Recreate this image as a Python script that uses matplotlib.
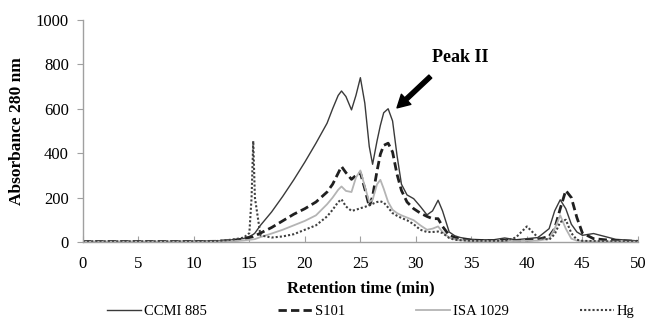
import matplotlib
matplotlib.use("Agg")
import matplotlib.pyplot as plt

plt.rcParams['font.family'] = ['Liberation Serif', 'DejaVu Serif']

# Retention time grid (min)
time = [0, 2, 4, 6, 8, 10, 12, 13, 14, 14.5, 15, 15.2, 15.35, 15.5, 16, 17, 18, 19, 20,
        21, 22, 22.5, 23, 23.3, 23.7, 24.2, 24.6, 25, 25.4, 25.8, 26.1, 26.5, 26.8,
        27.1, 27.5, 27.9, 28.3, 28.7, 29.2, 29.8, 30.4, 31, 31.5, 32, 32.4, 33, 33.5,
        34, 35, 36, 37, 38, 39, 40, 41, 42, 42.5, 43, 43.5, 44, 44.5, 45, 46, 47, 48, 50]

ccmi885 = [2, 2, 2, 2, 2, 3, 5, 8, 12, 16, 25, 30, 34, 40, 75, 135, 205, 280, 360,
           445, 535, 600, 660, 680, 655, 595, 660, 740, 625, 430, 350, 455, 525,
           582, 600, 545, 390, 260, 212, 195, 160, 122, 140, 188, 140, 45, 28,
           20, 12, 10, 10, 18, 10, 15, 20, 60, 140, 190, 150, 80, 45, 30, 38, 25, 12, 5]

s101 = [2, 2, 2, 2, 2, 2, 3, 5, 10, 14, 20, 22, 24, 27, 40, 65, 95, 125, 150,
        180, 225, 260, 310, 340, 312, 282, 300, 312, 240, 160, 205, 320, 395,
        435, 445, 405, 305, 232, 180, 150, 130, 115, 105, 105, 70, 30, 20,
        12, 8, 6, 5, 8, 5, 8, 12, 25, 60, 150, 232, 200, 110, 40, 15, 10, 6, 3]

isa1029 = [1, 1, 1, 1, 1, 1, 2, 3, 5, 7, 10, 11, 12, 13, 22, 38, 55, 75, 95,
           120, 170, 200, 235, 250, 230, 225, 290, 322, 250, 180, 190, 260, 280,
           240, 180, 145, 130, 120, 110, 98, 75, 55, 60, 70, 45, 20, 12,
           8, 5, 4, 4, 5, 4, 5, 6, 15, 60, 120, 60, 15, 6, 4, 3, 2, 2, 1]

hg = [3, 3, 3, 3, 3, 3, 4, 8, 15, 20, 40, 200, 455, 200, 30, 20, 25, 35, 55,
      75, 115, 145, 180, 192, 160, 140, 145, 152, 158, 165, 172, 180, 183,
      178, 155, 130, 118, 108, 98, 80, 55, 45, 45, 47, 40, 18, 10,
      8, 5, 5, 5, 5, 20, 70, 20, 10, 35, 90, 100, 40, 10, 5, 4, 3, 3, 2]

series_labels = ['CCMI 885', 'S101', 'ISA 1029', 'Hg']
x_ticks = [0, 5, 10, 15, 20, 25, 30, 35, 40, 45, 50]
y_ticks = [0, 200, 400, 600, 800, 1000]

fig = plt.figure(figsize=(6.47, 3.27), dpi=100)
ax = fig.add_axes([0.128, 0.26, 0.858, 0.679])

common = dict(solid_joinstyle='round', dash_joinstyle='round')
ax.plot(time, ccmi885, color='#3a3a3a', lw=1.0, ls='-', label=series_labels[0], **common)
ax.plot(time, s101, color='#202020', lw=2.0, ls=(0, (3, 1.5)), label=series_labels[1], **common)
ax.plot(time, isa1029, color='#b4b4b4', lw=1.3, ls='-', label=series_labels[2], **common)
ax.plot(time, hg, color='#404040', lw=1.5, ls=(0, (1, 1)), label=series_labels[3], **common)

ax.set_xlim(0, 50)
ax.set_ylim(0, 1000)
ax.set_xticks(x_ticks)
ax.set_yticks(y_ticks)
ax.tick_params(axis='x', direction='in', length=4, color='#a0a0a0', labelsize=12, pad=10)
ax.tick_params(axis='y', direction='out', length=4, color='#a0a0a0', labelsize=12, pad=6)
for s in ['top', 'right']:
    ax.spines[s].set_visible(False)
for s in ['left', 'bottom']:
    ax.spines[s].set_color('#a0a0a0')
    ax.spines[s].set_linewidth(1.0)

ax.set_xlabel('Retention time (min)', fontweight='bold', fontsize=12, labelpad=6)
ax.set_ylabel('Absorbance 280 nm', fontweight='bold', fontsize=12.5, labelpad=8)

ax.annotate('', xy=(28.3, 604), xytext=(31.3, 745),
            arrowprops=dict(facecolor='black', edgecolor='black', width=3,
                            headwidth=10, headlength=9, shrink=0))
ax.text(34.0, 833, 'Peak II', fontweight='bold', fontsize=13, ha='center', va='center')

fig.legend(loc='center', bbox_to_anchor=(0.573, 0.048), ncol=4, frameon=False,
           fontsize=10.5, handlelength=2.3, columnspacing=4.9, handletextpad=0.2)

fig.savefig('out.png', dpi=100)
